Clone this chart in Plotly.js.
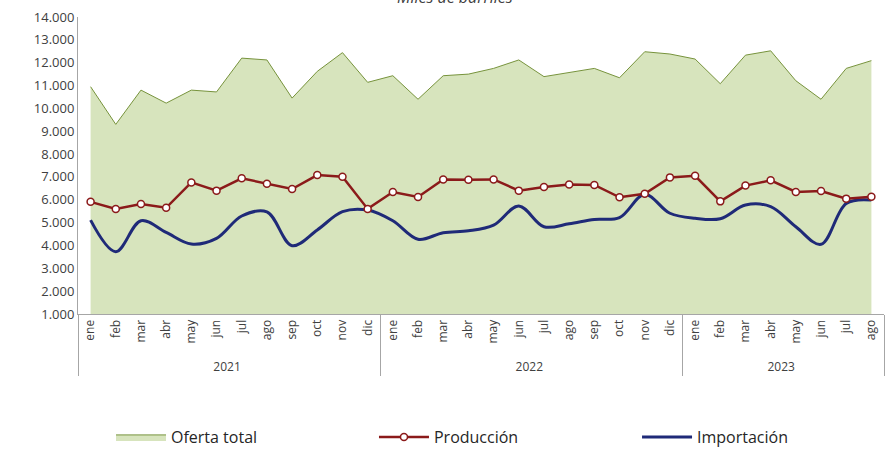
<!DOCTYPE html>
<html><head><meta charset="utf-8">
<script src="https://cdn.plot.ly/plotly-3.0.1.min.js"></script>
<style>html,body{margin:0;padding:0;background:#fff}#chart{width:886px;height:454px}</style>
</head><body><div id="chart"></div>
<script>
const years = ['2021','2022','2023'];
const months = ['ene','feb','mar','abr','may','jun','jul','ago','sep','oct','nov','dic'];
const monthsPerYear = [12, 12, 8];

const ofertaTotal = [10950,9300,10800,10230,10800,10720,12200,12120,10450,11620,12440,11140,
                     11430,10400,11430,11500,11750,12120,11390,11580,11750,11340,12480,12380,
                     12160,11080,12330,12520,11210,10400,11750,12090];
const produccion  = [5910,5600,5810,5650,6760,6400,6940,6700,6470,7080,7010,5600,
                     6340,6120,6890,6880,6890,6400,6560,6670,6650,6110,6260,6980,
                     7050,5930,6620,6850,6340,6380,6050,6130];
const importacion = [5110,3730,5080,4570,4060,4310,5290,5470,3990,4680,5480,5550,
                     5080,4270,4560,4640,4890,5730,4820,4950,5140,5220,6240,5410,
                     5190,5170,5770,5700,4820,4050,5840,5990];

// a leading no-break space only lengthens the rotated month labels downward,
// so that the year row sits a little lower, as in the reference
const pad = '\u00a0';
const xYear = [], xMonth = [];
years.forEach((y, i) => {
  for (let m = 0; m < monthsPerYear[i]; m++) { xYear.push(y); xMonth.push(pad + months[m]); }
});
const X = [xYear, xMonth];

const font = 'Open Sans, Noto Sans, sans-serif';
const traces = [
  { x: X, y: ofertaTotal, name: 'Oferta total', type: 'scatter', mode: 'lines',
    fill: 'tozeroy', fillcolor: '#d7e4bd', line: {color: '#77933c', width: 1},
    legend: 'legend' },
  { x: X, y: importacion, name: 'Importación', type: 'scatter', mode: 'lines',
    line: {color: '#1f2a78', width: 3, shape: 'spline', smoothing: 1}, legend: 'legend3' },
  { x: X, y: produccion, name: 'Producción', type: 'scatter', mode: 'lines+markers',
    line: {color: '#8b1a1a', width: 2.5},
    marker: {symbol: 'circle', size: 7, color: '#ffffff', line: {color: '#8b1a1a', width: 1.5}},
    legend: 'legend2' }
];

const legendBase = (x) => ({orientation: 'h', xref: 'container', yref: 'container',
  x: x, xanchor: 'left', y: 0.0374, yanchor: 'middle', itemwidth: 50,
  font: {family: font, size: 16, color: '#262626'}, bgcolor: 'rgba(0,0,0,0)'});

const layout = {
  width: 886, height: 454,
  margin: {l: 78, r: 2, t: 17, b: 140},
  paper_bgcolor: '#ffffff', plot_bgcolor: '#ffffff',
  separators: ',.',
  font: {family: font, size: 12, color: '#404040'},
  annotations: [{text: '<i>Miles de barriles</i>', xref: 'paper', yref: 'paper',
                 x: 0.4677, y: 1.023, xanchor: 'center', yanchor: 'bottom', showarrow: false,
                 font: {family: font, size: 16, color: '#404040'}}],
  showlegend: true,
  legend: legendBase(0.1253),
  legend2: legendBase(0.4221),
  legend3: legendBase(0.7190),
  xaxis: {type: 'multicategory', range: [-0.5, 31.5], autorange: false,
          showline: true, linecolor: '#a6a6a6', linewidth: 1,
          showgrid: false, ticks: '', tickangle: -90, showdividers: true,
          dividercolor: '#a6a6a6', dividerwidth: 1,
          tickfont: {family: font, size: 12, color: '#404040'}},
  yaxis: {range: [1000, 14000], dtick: 1000, tick0: 1000, tickformat: ',.0f',
          showline: true, linecolor: '#a6a6a6', linewidth: 1, showgrid: false, zeroline: false,
          ticks: '', tickfont: {family: font, size: 13, color: '#404040'}}
};

Plotly.newPlot('chart', traces, layout, {displayModeBar: false, staticPlot: true});
</script></body></html>
